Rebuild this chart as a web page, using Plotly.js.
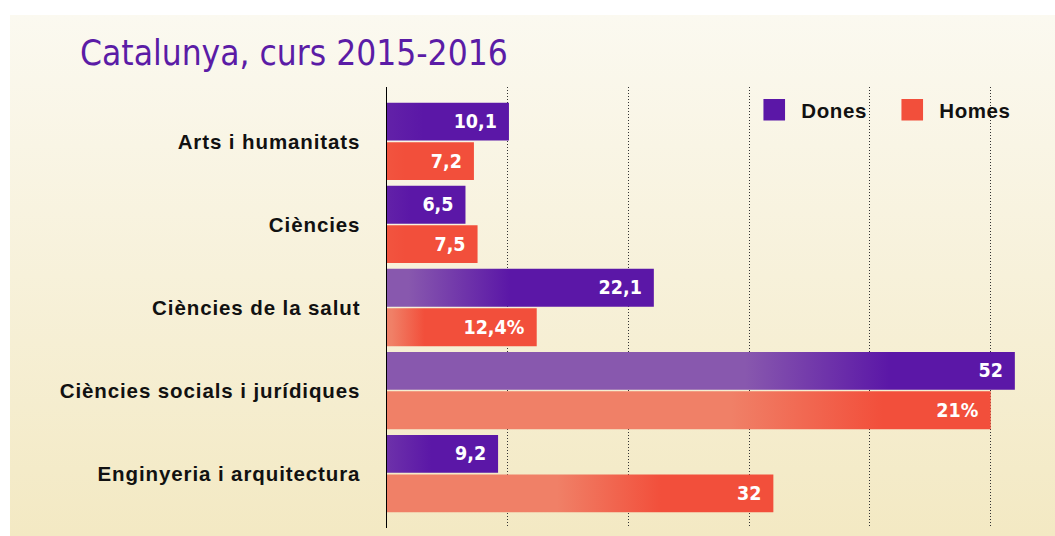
<!DOCTYPE html>
<html>
<head>
<meta charset="utf-8">
<script src="https://cdn.plot.ly/plotly-3.0.1.min.js"></script>
<style>
  html, body { margin: 0; padding: 0; background: #ffffff; }
  #wrap { position: relative; width: 1055px; height: 536px; overflow: hidden; }
  #panel { position: absolute; left: 10px; top: 15px; width: 1045px; height: 521px;
           background: linear-gradient(to bottom, #fbf9f0 0%, #f7f1da 50%, #f3e9c3 100%); }
  #chart { position: absolute; left: 0; top: 0; width: 1055px; height: 536px; }
  #chart .ytick text { letter-spacing: 0.9px; }
  #chart .legendtext { letter-spacing: 0.6px; }
</style>
</head>
<body>
<div id="wrap"><div id="panel"></div><div id="chart"></div></div>
<script>
// ---- data ----
const categories = ["Arts i humanitats", "Ciències", "Ciències de la salut",
                    "Ciències socials i jurídiques", "Enginyeria i arquitectura"];
const seriesNames = ["Dones", "Homes"];
const donesValues = [10.1, 6.5, 22.1, 52, 9.2];
const homesValues = [7.2, 7.5, 12.4, 50, 32];
const donesLabels = ["10,1", "6,5", "22,1", "52", "9,2"];
const homesLabels = ["7,2", "7,5", "12,4%", "21%", "32"];

// ---- styles ----
const donesDark = "#5b17a7", donesLight = "#8858ae";
const homesDark = "#f24f3b", homesLight = "#f08067";
// per-bar gradient: [start mix toward dark, light-until, dark-from] (fractions of bar length)
const donesGrad = [[0.85, 0, 0.3], [0.85, 0, 0.3], [0, 0.08, 0.46], [0, 0.57, 0.8], [0.6, 0, 0.4]];
const homesGrad = [[0.9, 0, 0.2], [0.9, 0, 0.2], [0, 0.03, 0.25], [0, 0.57, 0.82], [0, 0.44, 0.71]];

const labelFont = {family: "'Liberation Sans Narrow', 'DejaVu Sans Condensed', sans-serif",
                   size: 19.5, color: "#ffffff", weight: "bold"};

const traces = [
  {type: "bar", orientation: "h", name: seriesNames[0], y: categories, x: donesValues,
   text: donesLabels, textposition: "inside", insidetextanchor: "end",
   textfont: labelFont, marker: {color: donesDark, line: {width: 0}},
   hoverinfo: "skip", cliponaxis: false},
  {type: "bar", orientation: "h", name: seriesNames[1], y: categories, x: homesValues,
   text: homesLabels, textposition: "inside", insidetextanchor: "end",
   textfont: labelFont, marker: {color: homesDark, line: {width: 0}},
   hoverinfo: "skip", cliponaxis: false}
];

const layout = {
  width: 1055, height: 536,
  paper_bgcolor: "rgba(0,0,0,0)", plot_bgcolor: "rgba(0,0,0,0)",
  margin: {l: 387, r: 16, t: 87, b: 8, autoexpand: false},
  barmode: "group", bargap: 0.05, bargroupgap: 0.04,
  showlegend: true,
  legend: {orientation: "h", x: 0.574, xanchor: "left", y: 0.948, yanchor: "middle",
           bgcolor: "rgba(0,0,0,0)", entrywidth: 93, entrywidthmode: "pixels",
           font: {family: "'Liberation Sans', Arial, sans-serif", size: 20.5, color: "#111", weight: "bold"},
           traceorder: "normal", itemclick: false},
  title: {text: "Catalunya, curs 2015-2016", xref: "container", yref: "container",
          x: 80 / 1055, xanchor: "left", y: 1 - 53 / 536, yanchor: "middle",
          font: {family: "'Liberation Sans Narrow', 'DejaVu Sans Condensed', sans-serif",
                 size: 35, color: "#5b1ca6"}},
  xaxis: {range: [0, 54], showticklabels: false, ticks: "", zeroline: false,
          showgrid: true, gridcolor: "#333333", griddash: "1px,2px", gridwidth: 1,
          dtick: 10, tick0: 0, showline: false, fixedrange: true},
  yaxis: {type: "category", range: [4.655, -0.655], showline: true, linecolor: "#000000",
          linewidth: 1.5, ticks: "", showgrid: false, zeroline: false,
          ticklabelstandoff: 21, fixedrange: true,
          tickfont: {family: "'Liberation Sans', Arial, sans-serif", size: 20.5, color: "#111", weight: "bold"}},
  font: {family: "'Liberation Sans', Arial, sans-serif"}
};

function mix(c1, c2, t) {
  const a = [1, 3, 5].map(i => parseInt(c1.substr(i, 2), 16));
  const b = [1, 3, 5].map(i => parseInt(c2.substr(i, 2), 16));
  return "rgb(" + a.map((v, i) => Math.round(v + (b[i] - v) * t)).join(",") + ")";
}

Plotly.newPlot("chart", traces, layout, {staticPlot: true, displayModeBar: false}).then(function (gd) {
  const svg = gd.querySelector(".main-svg");
  let defs = svg.querySelector("defs");
  if (!defs) { defs = document.createElementNS("http://www.w3.org/2000/svg", "defs"); svg.insertBefore(defs, svg.firstChild); }
  function mkGrad(id, start, light, dark, a, b) {
    const g = document.createElementNS("http://www.w3.org/2000/svg", "linearGradient");
    g.setAttribute("id", id);
    g.setAttribute("x1", "0"); g.setAttribute("x2", "1"); g.setAttribute("y1", "0"); g.setAttribute("y2", "0");
    [[0, start], [a, a > 0 ? light : start], [b, dark], [1, dark]].forEach(function (s) {
      const st = document.createElementNS("http://www.w3.org/2000/svg", "stop");
      st.setAttribute("offset", s[0]); st.setAttribute("stop-color", s[1]);
      g.appendChild(st);
    });
    defs.appendChild(g);
  }
  const traceGroups = gd.querySelectorAll(".barlayer .trace.bars");
  traceGroups.forEach(function (tg, ti) {
    const grads = ti === 0 ? donesGrad : homesGrad;
    const light = ti === 0 ? donesLight : homesLight;
    const dark = ti === 0 ? donesDark : homesDark;
    tg.querySelectorAll(".point").forEach(function (pt, pi) {
      const id = "grad_" + ti + "_" + pi;
      const g = grads[pi];
      mkGrad(id, mix(light, dark, g[0]), light, dark, g[1], g[2]);
      const p = pt.querySelector("path");
      if (p) p.style.fill = "url(#" + id + ")";
      const t = pt.querySelector("text");
      if (t) t.setAttribute("transform", "translate(-9,0) " + (t.getAttribute("transform") || ""));
    });
  });
  gd.querySelectorAll(".legendpoints path").forEach(function (p) {
    p.setAttribute("transform", "translate(13,0) scale(1.8)");
  });
});
</script>
</body>
</html>
